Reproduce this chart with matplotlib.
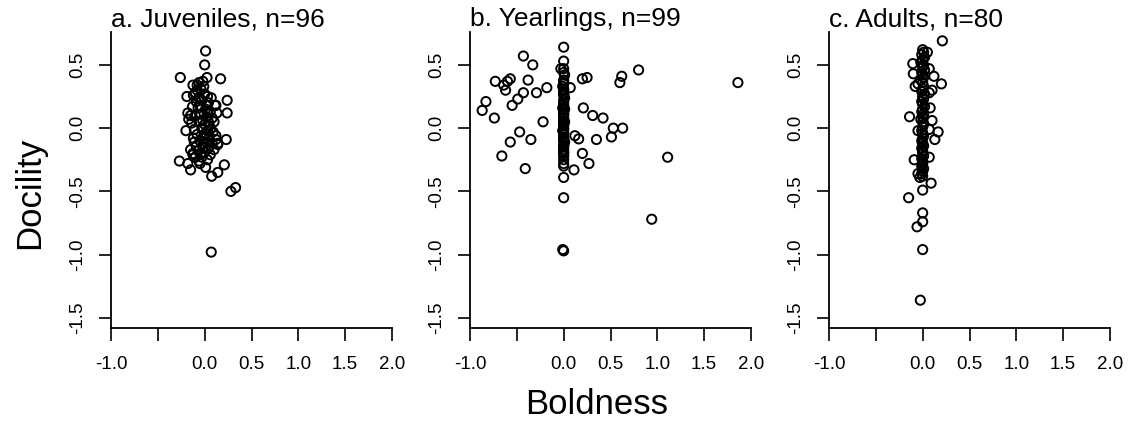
"""
Boldness vs docility scatter panels (juveniles, yearlings, adults).
R base-graphics look: open circles, L-shaped axes, rotated y tick labels.
"""

import matplotlib
matplotlib.use("Agg")
import matplotlib.pyplot as plt

plt.rcParams["font.family"] = ["Liberation Sans", "DejaVu Sans"]

# ---- data ----
juv_boldness = [
    0.01, 0.00, -0.26, 0.025, 0.17, 0.24, 0.24, -0.20, 0.23, -0.27,
    -0.18, -0.15, 0.01, 0.21, 0.075, 0.14, 0.28, 0.33, 0.07, -0.18,
    -0.19, -0.17, -0.125, 0.12, 0.14, 0.12, 0.13, -0.125, -0.06, -0.02,
    0.03, 0.11, -0.11, -0.125, -0.05, 0.14,
    -0.08, -0.10, -0.04, -0.12, -0.06, 0.00, -0.09, -0.03, 0.04, -0.13,
    -0.07, 0.01, 0.06, -0.10, -0.04, 0.02, 0.08, -0.14, -0.06, 0.00,
    0.05, -0.11, -0.03, 0.03, 0.09, -0.08, -0.01, 0.05, -0.12, -0.05,
    0.02, 0.08, -0.09, -0.02, 0.04, 0.10, -0.07, 0.00, 0.06, -0.10,
    -0.03, 0.03, -0.06, -0.01, 0.01, -0.02, 0.03, -0.05, -0.01, -0.08,
    0.07, 0.10, 0.12, -0.15, -0.15, 0.06, -0.04, 0.02, 0.00, 0.04,
]
juv_docility = [
    0.61, 0.50, 0.40, 0.40, 0.39, 0.22, 0.12, -0.02, -0.09, -0.26,
    -0.28, -0.33, -0.31, -0.29, -0.38, -0.35, -0.50, -0.47, -0.98, 0.12,
    0.25, 0.07, -0.21, -0.06, -0.12, 0.18, 0.12, 0.34, 0.36, 0.37,
    0.25, 0.18, -0.11, -0.20, -0.28, -0.13,
    0.30, 0.28, 0.31, 0.26, 0.24, 0.27, 0.21, 0.22, 0.20, 0.17,
    0.16, 0.15, 0.13, 0.10, 0.11, 0.09, 0.08, 0.04, 0.05, 0.03,
    0.02, -0.01, 0.00, -0.02, -0.03, -0.05, -0.06, -0.07, -0.08, -0.10,
    -0.11, -0.12, -0.14, -0.15, -0.16, -0.17, -0.18, -0.19, -0.21, -0.23,
    -0.23, -0.25, -0.26, -0.12, -0.04, 0.06, 0.13, 0.18, 0.33, 0.34,
    0.24, 0.05, -0.09, 0.10, -0.17, -0.01, -0.21, 0.18, -0.08, 0.05,
]

yrl_boldness = [
    -0.43, -0.33, 0.80, -0.73, -0.64, -0.60, -0.57, -0.62, -0.38, -0.43,
    -0.29, -0.18, 0.07, 0.20, 0.25, 0.60, 0.62, 1.86, -0.83, -0.87,
    -0.74, -0.49, -0.55, -0.22, 0.21, 0.31, 0.42, 0.53, 0.63, 0.51,
    -0.47, -0.35, -0.57, 0.12, 0.16, 0.35, -0.66, 0.20, -0.41, 0.11,
    0.27, 1.11, 0.94, -0.03,
    0.00, 0.00, 0.00, 0.00, 0.01, 0.00, 0.00, -0.01, 0.00, 0.00,
    0.00, 0.01, 0.00, 0.00, 0.00, -0.01, 0.00, 0.00, 0.00, 0.00,
    0.00, 0.01, 0.00, 0.00, 0.00, 0.00, -0.01, 0.00, 0.00, 0.00,
    0.00, 0.00, 0.01, 0.00, 0.00, 0.00, 0.00, 0.00, 0.00, 0.00,
    0.00, 0.00, 0.00, -0.01, 0.00, 0.00, 0.00, 0.01, 0.00, 0.00,
    0.00, 0.00, 0.00, 0.00, 0.00,
]
yrl_docility = [
    0.57, 0.50, 0.46, 0.37, 0.34, 0.37, 0.39, 0.30, 0.38, 0.28,
    0.28, 0.32, 0.32, 0.39, 0.40, 0.36, 0.41, 0.36, 0.21, 0.14,
    0.08, 0.23, 0.18, 0.05, 0.16, 0.10, 0.08, 0.00, 0.00, -0.07,
    -0.03, -0.09, -0.11, -0.06, -0.085, -0.09, -0.22, -0.20, -0.32, -0.33,
    -0.28, -0.23, -0.72, 0.47,
    0.64, 0.53, 0.47, 0.44, 0.42, 0.38, 0.36, 0.33, 0.30, 0.28,
    0.26, 0.24, 0.22, 0.20, 0.18, 0.16, 0.14, 0.12, 0.10, 0.08,
    0.06, 0.05, 0.03, 0.02, 0.00, -0.01, -0.02, -0.04, -0.05, -0.07,
    -0.08, -0.10, -0.11, -0.13, -0.15, -0.17, -0.19, -0.22, -0.25, -0.28,
    -0.30, -0.39, -0.55, -0.96, -0.97, 0.35, 0.27, 0.15, 0.04, -0.03,
    -0.09, -0.14, -0.20, 0.11, 0.31,
]

adu_boldness = [
    0.21, -0.105, -0.10, 0.05, 0.12, 0.07, 0.20, -0.08, -0.05, 0.10,
    0.07, 0.08, -0.14, 0.10, -0.05, 0.07, 0.165, 0.13, -0.09, 0.07,
    -0.05, -0.03, 0.09, 0.00, -0.15, 0.00, 0.00, -0.06, 0.00, -0.025,
    0.00, 0.01, -0.01, 0.02, 0.00, -0.02, 0.01, 0.00, 0.02, -0.01,
    0.00, 0.01, -0.02, 0.00, 0.01, 0.00, -0.01, 0.02, 0.00, 0.01,
    -0.01, 0.00, 0.02, 0.00, -0.01, 0.01, 0.00, -0.02, 0.00, 0.01,
    0.00, -0.01, 0.00, 0.01, 0.00, -0.01, 0.00, 0.01, -0.01, 0.00,
    0.00, 0.01, -0.01, 0.00, 0.00, -0.01, 0.01, 0.00, -0.01, 0.00,
]
adu_docility = [
    0.69, 0.51, 0.43, 0.60, 0.41, 0.47, 0.35, 0.33, 0.35, 0.30,
    0.28, 0.16, 0.09, 0.06, -0.02, -0.01, -0.03, -0.09, -0.25, -0.23,
    -0.36, -0.39, -0.435, -0.49, -0.55, -0.67, -0.74, -0.78, -0.96, -1.36,
    0.62, 0.60, 0.58, 0.56, 0.54, 0.52, 0.50, 0.48, 0.46, 0.44,
    0.42, 0.40, 0.38, 0.36, 0.33, 0.31, 0.29, 0.27, 0.25, 0.23,
    0.21, 0.19, 0.17, 0.15, 0.13, 0.11, 0.09, 0.07, 0.05, 0.03,
    0.01, -0.02, -0.04, -0.06, -0.08, -0.10, -0.12, -0.14, -0.16, -0.18,
    -0.20, -0.22, -0.24, -0.26, -0.28, -0.30, -0.32, -0.34, -0.36, -0.38,
]

panel_titles = ["a. Juveniles, n=96", "b. Yearlings, n=99", "c. Adults, n=80"]
x_ticks = [-1.0, -0.5, 0.0, 0.5, 1.0, 1.5, 2.0]
x_tick_labels = ["-1.0", "", "0.0", "0.5", "1.0", "1.5", "2.0"]
y_ticks = [-1.5, -1.0, -0.5, 0.0, 0.5]
y_tick_labels = ["-1.5", "-1.0", "-0.5", "0.0", "0.5"]

panels = [
    (juv_boldness, juv_docility),
    (yrl_boldness, yrl_docility),
    (adu_boldness, adu_docility),
]

# ---- figure ----
fig = plt.figure(figsize=(11.3, 4.3), dpi=100)
lefts = [111 / 1130, 470 / 1130, 829 / 1130]
bottom = 102 / 430
width = 281 / 1130
height = 296 / 430

for left, title, (bx, dy) in zip(lefts, panel_titles, panels):
    ax = fig.add_axes([left, bottom, width, height])
    ax.scatter(bx, dy, s=44, facecolors="none", edgecolors="black",
               linewidths=1.4, zorder=3, clip_on=False)
    ax.set_xlim(-1.0, 2.0)
    ax.set_ylim(-1.58, 0.76)

    ax.spines["top"].set_visible(False)
    ax.spines["right"].set_visible(False)
    ax.spines["left"].set_linewidth(1.3)
    ax.spines["bottom"].set_linewidth(1.3)

    ax.set_xticks(x_ticks)
    ax.set_xticklabels(x_tick_labels)
    ax.set_yticks(y_ticks)
    ax.set_yticklabels(y_tick_labels, rotation=90, va="center")
    ax.tick_params(axis="both", direction="out", length=9, width=1.2,
                   labelsize=13.5, color="black")
    ax.tick_params(axis="x", pad=11)
    ax.tick_params(axis="y", pad=9)

    ax.set_title(title, loc="left", fontsize=19, pad=4)

fig.text(30 / 1130, 1 - 193 / 430, "Docility", rotation=90,
         ha="center", va="center", fontsize=25)
fig.text(597 / 1130, 1 - 404 / 430, "Boldness",
         ha="center", va="center", fontsize=25)

fig.savefig("out.png", dpi=100, facecolor="white")
